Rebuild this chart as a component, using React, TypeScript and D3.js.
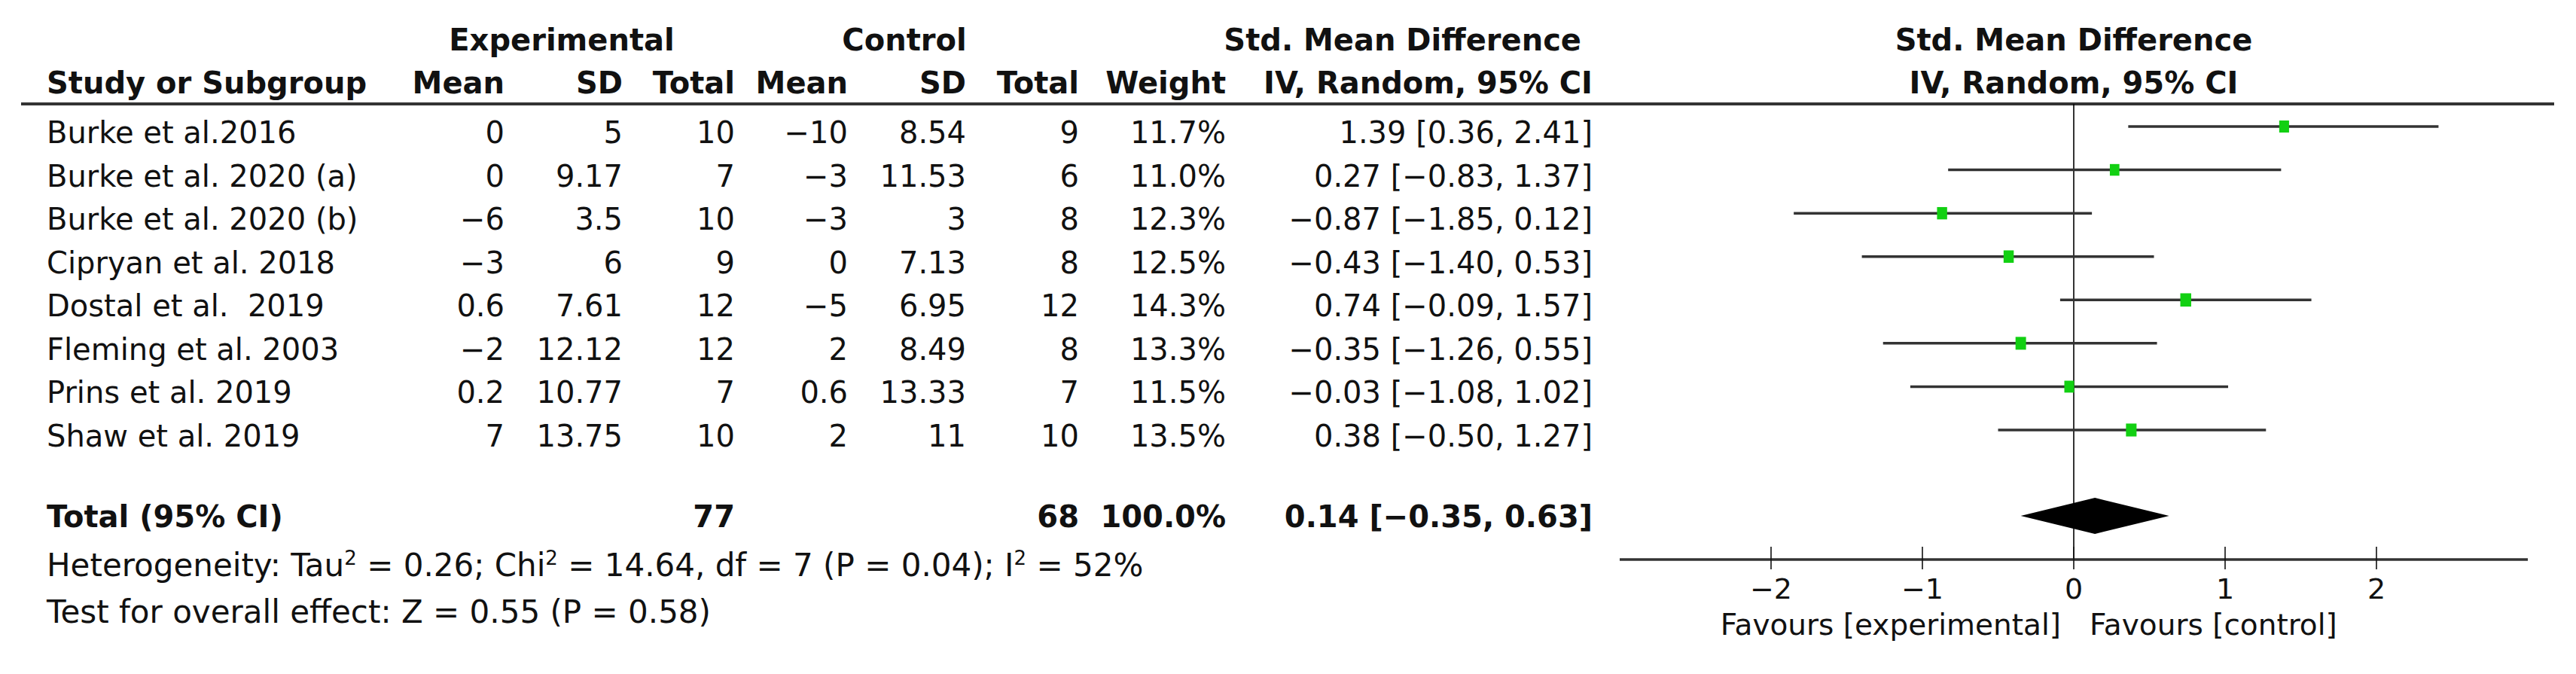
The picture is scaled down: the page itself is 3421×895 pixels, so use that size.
import React from 'react';
import * as d3 from 'd3';

// study-level data
const studies = [
  'Burke et al.2016',
  'Burke et al. 2020 (a)',
  'Burke et al. 2020 (b)',
  'Cipryan et al. 2018',
  'Dostal et al.  2019',
  'Fleming et al. 2003',
  'Prins et al. 2019',
  'Shaw et al. 2019',
];
const expMean = [0, 0, -6, -3, 0.6, -2, 0.2, 7];
const expSD = [5, 9.17, 3.5, 6, 7.61, 12.12, 10.77, 13.75];
const expN = [10, 7, 10, 9, 12, 12, 7, 10];
const ctlMean = [-10, -3, -3, 0, -5, 2, 0.6, 2];
const ctlSD = [8.54, 11.53, 3, 7.13, 6.95, 8.49, 13.33, 11];
const ctlN = [9, 6, 8, 8, 12, 8, 7, 10];
const weights = [11.7, 11.0, 12.3, 12.5, 14.3, 13.3, 11.5, 13.5];
const smd = [1.39, 0.27, -0.87, -0.43, 0.74, -0.35, -0.03, 0.38];
const lower = [0.36, -0.83, -1.85, -1.4, -0.09, -1.26, -1.08, -0.5];
const upper = [2.41, 1.37, 0.12, 0.53, 1.57, 0.55, 1.02, 1.27];

const totalExpN = 77;
const totalCtlN = 68;
const totalWeight = 100.0;
const totalSmd = 0.14;
const totalLower = -0.35;
const totalUpper = 0.63;

const axisTicks = [-2, -1, 0, 1, 2];

const W = 3421;
const H = 895;
const FONT = "'DejaVu Sans', 'Liberation Sans', sans-serif";
const FS = 40;

const minus = (s: string) => s.replace(/-/g, '\u2212');
const num = (v: number) => minus(String(v));
const ci = (m: number, l: number, u: number) =>
  minus(`${m.toFixed(2)} [${l.toFixed(2)}, ${u.toFixed(2)}]`);

// column right edges
const col = {
  name: 62,
  expMean: 670,
  expSD: 827,
  expN: 976,
  ctlMean: 1126,
  ctlSD: 1283,
  ctlN: 1433,
  weight: 1628,
  ci: 2115,
};

const App: React.FC = () => {
  const x = d3.scaleLinear().domain([-3, 3]).range([2151, 3357]);
  const rowY = d3.scalePoint<string>().domain(studies).range([190, 593]);
  const sq = d3.scaleSqrt().domain([0, 12.5]).range([0, 15]);

  const headerLineY = 138;
  const axisY = 743;
  const totalY = 700;
  const diamondH = 24;

  const diamond = d3.line()([
    [x(totalLower), totalY - 15],
    [x(totalSmd), totalY - 15 - diamondH],
    [x(totalUpper), totalY - 15],
    [x(totalSmd), totalY - 15 + diamondH],
  ]) + 'Z';

  const R = (props: { x: number; y: number; bold?: boolean; children: React.ReactNode }) => (
    <text x={props.x} y={props.y} textAnchor="end" fontWeight={props.bold ? 'bold' : 'normal'}>
      {props.children}
    </text>
  );

  return (
    <div style={{ position: 'absolute', left: 0, top: 0 }}>
      <svg width={W} height={H} style={{ display: 'block', background: '#fff' }}>
        <g fontFamily={FONT} fontSize={FS} fill="#111">
          {/* headers */}
          <g fontWeight="bold">
            <text x={746} y={67} textAnchor="middle">Experimental</text>
            <text x={1201} y={67} textAnchor="middle">Control</text>
            <text x={2100} y={67} textAnchor="end">Std. Mean Difference</text>
            <text x={x(0)} y={67} textAnchor="middle">Std. Mean Difference</text>
            <text x={col.name} y={124}>Study or Subgroup</text>
            <text x={col.expMean} y={124} textAnchor="end">Mean</text>
            <text x={col.expSD} y={124} textAnchor="end">SD</text>
            <text x={col.expN} y={124} textAnchor="end">Total</text>
            <text x={col.ctlMean} y={124} textAnchor="end">Mean</text>
            <text x={col.ctlSD} y={124} textAnchor="end">SD</text>
            <text x={col.ctlN} y={124} textAnchor="end">Total</text>
            <text x={col.weight} y={124} textAnchor="end">Weight</text>
            <text x={col.ci} y={124} textAnchor="end">IV, Random, 95% CI</text>
            <text x={x(0)} y={124} textAnchor="middle">IV, Random, 95% CI</text>
          </g>
          <line x1={28} x2={3392} y1={headerLineY} y2={headerLineY} stroke="#333" strokeWidth={4} />

          {/* study rows */}
          {studies.map((s, i) => {
            const y = rowY(s) as number;
            return (
              <g key={s}>
                <text x={col.name} y={y} xmlSpace="preserve">{s}</text>
                <R x={col.expMean} y={y}>{num(expMean[i])}</R>
                <R x={col.expSD} y={y}>{num(expSD[i])}</R>
                <R x={col.expN} y={y}>{num(expN[i])}</R>
                <R x={col.ctlMean} y={y}>{num(ctlMean[i])}</R>
                <R x={col.ctlSD} y={y}>{num(ctlSD[i])}</R>
                <R x={col.ctlN} y={y}>{num(ctlN[i])}</R>
                <R x={col.weight} y={y}>{weights[i].toFixed(1)}%</R>
                <R x={col.ci} y={y}>{ci(smd[i], lower[i], upper[i])}</R>
              </g>
            );
          })}

          {/* total row */}
          <text x={col.name} y={totalY} fontWeight="bold">Total (95% CI)</text>
          <R x={col.expN} y={totalY} bold>{totalExpN}</R>
          <R x={col.ctlN} y={totalY} bold>{totalCtlN}</R>
          <R x={col.weight} y={totalY} bold>{totalWeight.toFixed(1)}%</R>
          <R x={col.ci} y={totalY} bold>{ci(totalSmd, totalLower, totalUpper)}</R>

          {/* footnotes */}
          <text x={col.name} y={765} fontSize={42}>
            Heterogeneity: Tau<tspan dy={-15} fontSize={26}>2</tspan>
            <tspan dy={15}> = 0.26; Chi</tspan>
            <tspan dy={-15} fontSize={26}>2</tspan>
            <tspan dy={15}> = 14.64, df = 7 (P = 0.04); I</tspan>
            <tspan dy={-15} fontSize={26}>2</tspan>
            <tspan dy={15}> = 52%</tspan>
          </text>
          <text x={col.name} y={827} fontSize={42}>
            Test for overall effect: Z = 0.55 (P = 0.58)
          </text>

          {/* forest plot */}
          <line x1={x(0)} x2={x(0)} y1={headerLineY} y2={axisY} stroke="#000" strokeWidth={1.6} />
          {studies.map((s, i) => {
            const y = (rowY(s) as number) - 22;
            const w = sq(weights[i]) * 0.9;
            const h = sq(weights[i]) * 1.1;
            return (
              <g key={'p' + s}>
                <line x1={x(lower[i])} x2={x(upper[i])} y1={y} y2={y} stroke="#333" strokeWidth={3.5} />
                <rect x={x(smd[i]) - w / 2} y={y - h / 2} width={w} height={h} fill="#12d012" />
              </g>
            );
          })}
          <path d={diamond} fill="#000" />

          {/* axis */}
          <line x1={x(-3)} x2={x(3)} y1={axisY} y2={axisY} stroke="#333" strokeWidth={3.5} />
          {axisTicks.map(t => (
            <g key={t}>
              <line x1={x(t)} x2={x(t)} y1={axisY - 17} y2={axisY + 13} stroke="#111" strokeWidth={1.6} />
              <text x={x(t)} y={795} textAnchor="middle" fontSize={38}>{num(t)}</text>
            </g>
          ))}
          <text x={x(0) - 17} y={843} textAnchor="end" fontSize={39}>Favours [experimental]</text>
          <text x={x(0) + 21} y={843} fontSize={39}>Favours [control]</text>
        </g>
      </svg>
    </div>
  );
};

export default App;
